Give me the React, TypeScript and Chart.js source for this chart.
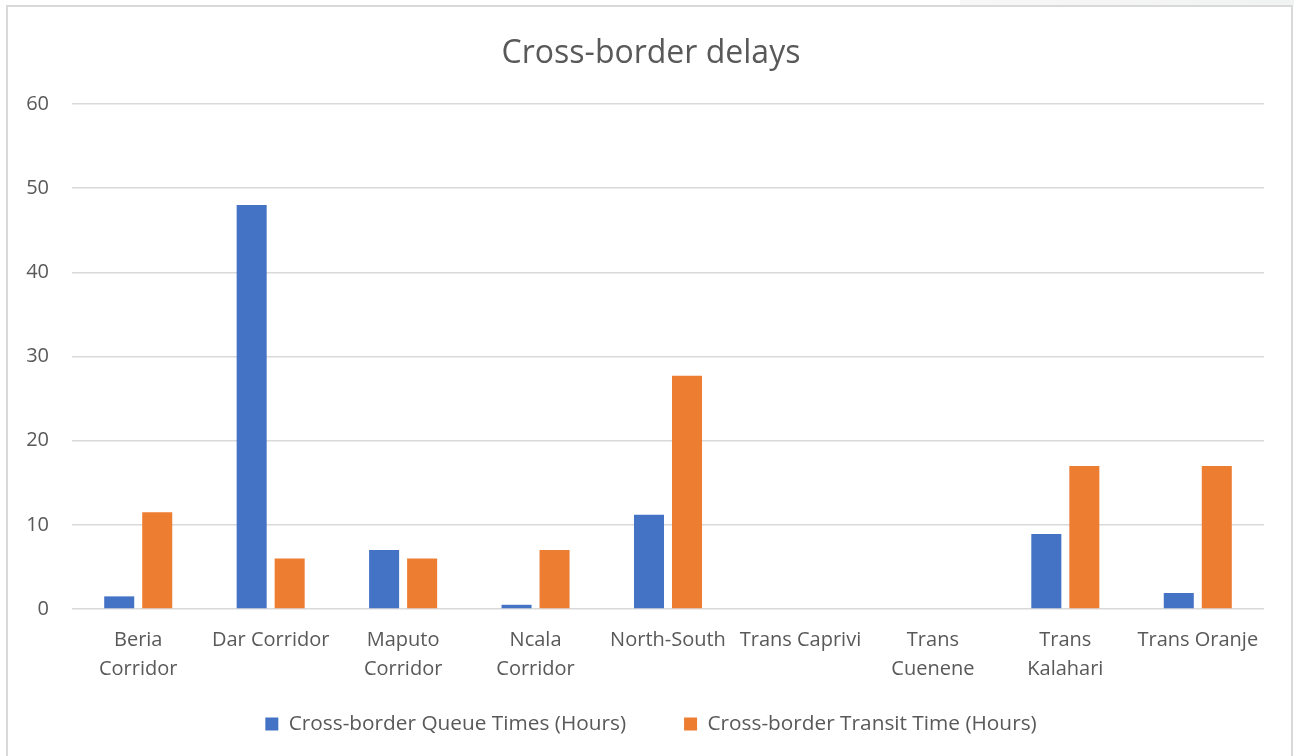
import React, { useEffect, useRef } from "react";
import { Chart, registerables } from "chart.js";

Chart.register(...registerables);

const categories: (string | string[])[] = [
  ["Beria", "Corridor"],
  "Dar Corridor",
  ["Maputo", "Corridor"],
  ["Ncala", "Corridor"],
  "North-South",
  "Trans Caprivi",
  ["Trans", "Cuenene"],
  ["Trans", "Kalahari"],
  "Trans Oranje",
];

const queueTimes: (number | null)[] = [1.5, 48, 7, 0.5, 11.2, null, null, 8.9, 1.9];
const transitTimes: (number | null)[] = [11.5, 6, 6, 7, 27.7, null, null, 17, 17];

const seriesNames = [
  "Cross-border Queue Times (Hours)",
  "Cross-border Transit Time (Hours)",
];

const yTicks = { min: 0, max: 60, step: 10 };

const FONT = "'Open Sans', 'Noto Sans', sans-serif";
const TEXT = "#595959";
const GRID = "#D9D9D9";

// Nudges the title and legend boxes to the same place as in the reference.
const placeBoxes = {
  id: "placeBoxes",
  afterLayout(chart: any) {
    const dx = 8;
    const t = chart.titleBlock;
    if (t) {
      t.left += dx;
      t.right += dx;
    }
    const l = chart.legend;
    if (l) {
      l.left += dx;
      l.right += dx;
      l.top = 655.6;
      l.bottom = chart.height;
      l.height = l.bottom - l.top;
    }
  },
};

export default function App() {
  const ref = useRef<HTMLCanvasElement | null>(null);

  useEffect(() => {
    if (!ref.current) return;
    const chart = new Chart(ref.current, {
      type: "bar",
      data: {
        labels: categories,
        datasets: [
          {
            label: seriesNames[0],
            data: queueTimes,
            backgroundColor: "#4472C4",
            borderWidth: 0,
          },
          {
            label: seriesNames[1],
            data: transitTimes,
            backgroundColor: "#ED7D31",
            borderWidth: 0,
          },
        ],
      },
      plugins: [placeBoxes],
      options: {
        responsive: false,
        animation: false,
        devicePixelRatio: 1,
        datasets: {
          bar: { categoryPercentage: 0.574, barPercentage: 0.79 },
        },
        layout: { padding: { left: 22, right: 30, top: 0, bottom: 27 } },
        plugins: {
          title: {
            display: true,
            text: "Cross-border delays",
            color: TEXT,
            font: { family: FONT, size: 32, weight: "normal" as any, lineHeight: 1.2 },
            padding: { top: 35, bottom: 30.6 },
          },
          legend: {
            display: true,
            position: "bottom",
            maxHeight: 40,
            labels: {
              color: TEXT,
              font: { family: FONT, size: 20.8 },
              boxWidth: 13,
              boxHeight: 13,
              padding: 58,
            },
          } as any,
          tooltip: { enabled: false },
        },
        scales: {
          x: {
            grid: { display: false, drawTicks: false },
            border: { display: false },
            ticks: {
              color: TEXT,
              font: { family: FONT, size: 20, lineHeight: 1.45 },
              padding: 17,
              maxRotation: 0,
              minRotation: 0,
              autoSkip: false,
            },
            afterFit: (scale: any) => {
              scale.height = 80;
            },
          },
          y: {
            min: yTicks.min,
            max: yTicks.max,
            grid: { color: GRID, lineWidth: 1.5, drawTicks: false },
            border: { display: false },
            ticks: {
              stepSize: yTicks.step,
              color: TEXT,
              font: { family: FONT, size: 20 },
              padding: 23,
            },
            afterFit: (scale: any) => {
              scale.width = 50;
            },
          },
        },
      },
    });
    return () => chart.destroy();
  }, []);

  return (
    <div
      style={{
        position: "fixed",
        left: 0,
        top: 0,
        width: 1294,
        height: 756,
        background: "#ffffff",
        overflow: "hidden",
      }}
    >
      <div
        style={{
          position: "absolute",
          left: 960,
          top: 0,
          width: 334,
          height: 5,
          background: "linear-gradient(to right, #f7f7f7, #f1f2f2)",
        }}
      />
      <div
        style={{
          position: "absolute",
          left: 6,
          top: 5,
          width: 1287,
          height: 800,
          border: `2px solid ${GRID}`,
          boxSizing: "border-box",
        }}
      />
      <canvas
        ref={ref}
        width={1294}
        height={756}
        style={{ position: "absolute", left: 0, top: 0, width: 1294, height: 756 }}
      />
    </div>
  );
}
